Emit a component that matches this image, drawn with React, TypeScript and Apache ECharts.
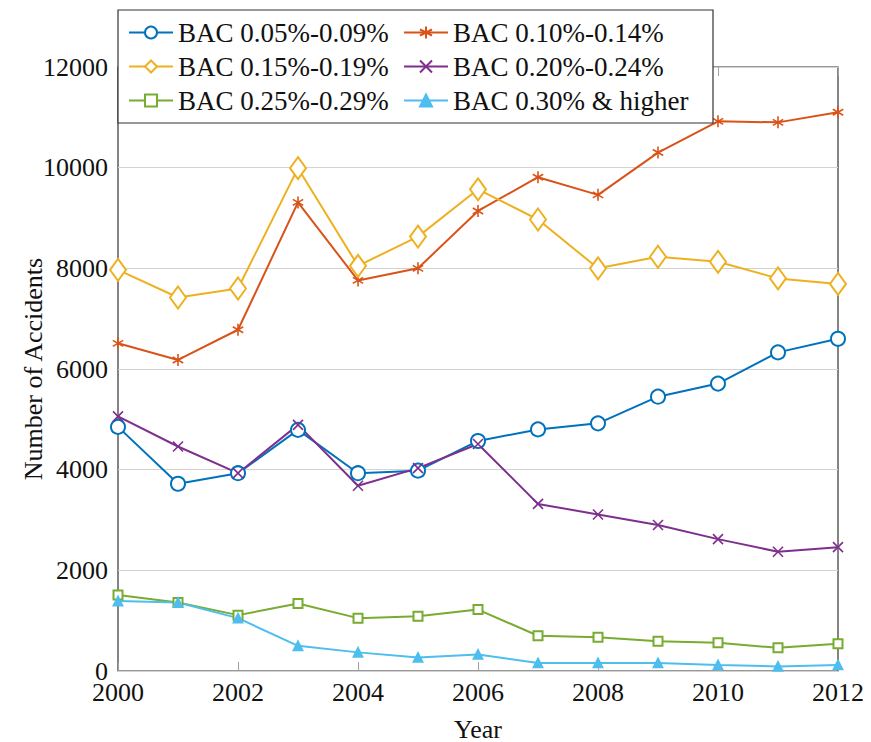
import React, { useEffect, useRef } from "react";
import * as echarts from "echarts";

const years = [2000, 2001, 2002, 2003, 2004, 2005, 2006, 2007, 2008, 2009, 2010, 2011, 2012];
const seriesNames = [
  "BAC 0.05%-0.09%",
  "BAC 0.10%-0.14%",
  "BAC 0.15%-0.19%",
  "BAC 0.20%-0.24%",
  "BAC 0.25%-0.29%",
  "BAC 0.30% & higher",
];
const bac0509 = [4850, 3720, 3930, 4790, 3930, 3980, 4570, 4800, 4920, 5450, 5710, 6330, 6600];
const bac1014 = [6510, 6180, 6780, 9310, 7760, 8000, 9140, 9810, 9460, 10300, 10920, 10900, 11100];
const bac1519 = [7970, 7420, 7600, 9990, 8050, 8630, 9570, 8970, 8000, 8230, 8130, 7800, 7690];
const bac2024 = [5060, 4460, 3930, 4890, 3680, 4030, 4510, 3320, 3110, 2900, 2620, 2370, 2460];
const bac2529 = [1510, 1360, 1110, 1340, 1050, 1090, 1220, 700, 670, 590, 560, 460, 540];
const bac30up = [1390, 1360, 1050, 500, 370, 270, 330, 160, 160, 160, 120, 90, 120];
const yAxisMin = 0;
const yAxisMax = 12000;
const yAxisStep = 2000;
const xAxisMin = 2000;
const xAxisMax = 2012;
const xAxisStep = 2;

const FONT = "Liberation Serif, DejaVu Serif, serif";
const colors = ["#0072BD", "#D95319", "#EDB120", "#7E2F8E", "#77AC30", "#4DBEEE"];
const ASTERISK = "path://M0,-10L0,10M-8.66,-5L8.66,5M-8.66,5L8.66,-5";
const CROSS = "path://M-10,-10L10,10M-10,10L10,-10";

export default function App() {
  const ref = useRef<HTMLDivElement>(null);
  useEffect(() => {
    if (!ref.current) return;
    const chart = echarts.init(ref.current, null, { renderer: "svg" });
    const allData = [bac0509, bac1014, bac1519, bac2024, bac2529, bac30up];
    const symbols: any[] = ["emptyCircle", ASTERISK, "emptyDiamond", CROSS, "emptyRect", "triangle"];
    const sizes: any[] = [14, 12, [16, 22], 10, 9, 9];
    const series = allData.map((vals, i) => ({
      name: seriesNames[i],
      type: "line",
      xAxisIndex: 0,
      yAxisIndex: 0,
      data: years.map((y, j) => [y, vals[j]]),
      symbol: symbols[i],
      symbolSize: sizes[i],
      symbolKeepAspect: true,
      showSymbol: true,
      lineStyle: { color: colors[i], width: 2 },
      itemStyle: {
        color: colors[i],
        borderColor: colors[i],
        borderWidth: i === 1 || i === 3 ? 1.6 : 1.8,
      },
      emphasis: { disabled: true },
      z: 3,
    }));
    const option: any = {
      animation: false,
      color: colors,
      grid: {
        left: 118,
        right: 33,
        top: 67,
        bottom: 71,
        containLabel: false,
        outerBoundsMode: "none",
        show: true,
        borderColor: "#333",
        borderWidth: 1.2,
        backgroundColor: "transparent",
      },
      legend: {
        left: 118,
        top: 10,
        width: 575,
        orient: "horizontal",
        itemWidth: 44,
        itemHeight: 15,
        itemGap: 5,
        padding: [8, 10, 8, 10],
        backgroundColor: "#fff",
        borderColor: "#333",
        borderWidth: 1.2,
        borderRadius: 0,
        selectedMode: false,
        textStyle: { fontFamily: FONT, fontSize: 27, color: "#111", lineHeight: 29 },
        data: seriesNames.map((n, i) => ({
          name: n,
          textStyle: { width: i % 2 === 0 ? 220 : 250 },
        })),
        z: 10,
      },
      xAxis: [
        {
          type: "value",
          min: xAxisMin,
          max: xAxisMax,
          interval: xAxisStep,
          axisLine: { show: false },
          splitLine: { show: false },
          axisTick: { show: true, inside: true, length: 9, lineStyle: { color: "#a0a0a0" } },
          axisLabel: {
            fontFamily: FONT,
            fontSize: 26,
            color: "#111",
            margin: 8,
            formatter: (v: number) => String(v),
          },
          name: "Year",
          nameLocation: "middle",
          nameGap: 45,
          nameMoveOverlap: false,
          nameTextStyle: { fontFamily: FONT, fontSize: 26, color: "#111" },
        },
        {
          type: "value",
          position: "top",
          min: xAxisMin,
          max: xAxisMax,
          interval: xAxisStep,
          axisLine: { show: false },
          splitLine: { show: false },
          axisLabel: { show: false },
          axisTick: { show: true, inside: true, length: 9, lineStyle: { color: "#a0a0a0" } },
        },
      ],
      yAxis: {
        type: "value",
        min: yAxisMin,
        max: yAxisMax,
        interval: yAxisStep,
        axisLine: { show: false },
        axisTick: { show: false },
        splitLine: { show: true, lineStyle: { color: "#d2d2d2", width: 1 } },
        axisLabel: {
          fontFamily: FONT,
          fontSize: 26,
          color: "#111",
          margin: 10,
          formatter: (v: number) => String(v),
        },
        name: "Number of Accidents",
        nameLocation: "middle",
        nameRotate: 90,
        nameGap: 72,
        nameMoveOverlap: false,
        nameTextStyle: { fontFamily: FONT, fontSize: 26, color: "#111" },
      },
      series,
    };
    chart.setOption(option);
    return () => chart.dispose();
  }, []);
  return (
    <div
      ref={ref}
      style={{ position: "fixed", left: 0, top: 0, width: 871, height: 742, background: "#fff" }}
    />
  );
}
